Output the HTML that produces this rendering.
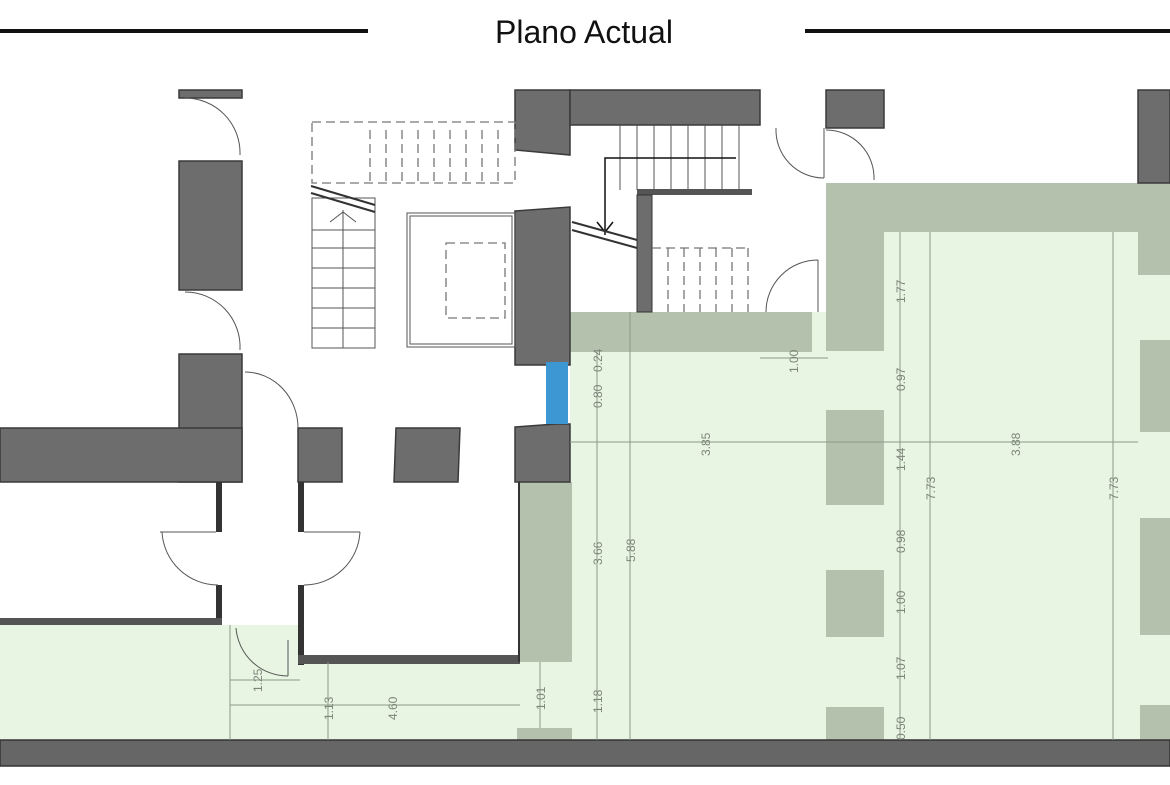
<!DOCTYPE html>
<html><head><meta charset="utf-8"><style>
html,body{margin:0;padding:0;background:#fff;}
svg{display:block;}
.d{fill:#6d6d6d;stroke:#3a3a3a;stroke-width:1.5}
.g{fill:#b4c2ad;}
.dim{stroke:#8a9a86;stroke-width:1;fill:none}
.t{font-family:"Liberation Sans",sans-serif;font-size:12px;fill:#7d847a}
.th{stroke:#555;stroke-width:1;fill:none}
.ds{stroke:#777;stroke-width:1.3;fill:none;stroke-dasharray:9 5}
</style></head><body>
<svg width="1170" height="785" viewBox="0 0 1170 785" xmlns="http://www.w3.org/2000/svg">
<rect width="1170" height="785" fill="#fff"/>
<!-- title -->
<line x1="0" y1="31" x2="368" y2="31" stroke="#111" stroke-width="4"/>
<line x1="805" y1="31" x2="1170" y2="31" stroke="#111" stroke-width="4"/>
<text x="584" y="43" text-anchor="middle" font-family="Liberation Sans, sans-serif" font-size="32" fill="#111">Plano Actual</text>

<!-- light green areas -->
<rect x="570" y="312" width="600" height="430" fill="#e8f5e2"/>
<rect x="884" y="232" width="286" height="80" fill="#e8f5e2"/>
<rect x="0" y="625" width="300" height="117" fill="#e8f5e2"/>
<rect x="300" y="662" width="272" height="80" fill="#e8f5e2"/>
<rect x="520" y="482" width="52" height="260" fill="#e8f5e2"/>

<!-- medium green walls -->
<rect class="g" x="826" y="183" width="312" height="49"/>
<rect class="g" x="1138" y="183" width="32" height="92"/>
<rect class="g" x="826" y="183" width="58" height="168"/>
<rect class="g" x="570" y="312" width="242" height="40"/>
<rect class="g" x="520" y="482" width="52" height="180"/>
<rect class="g" x="826" y="410" width="58" height="95"/>
<rect class="g" x="826" y="570" width="58" height="67"/>
<rect class="g" x="826" y="707" width="58" height="35"/>
<rect class="g" x="1140" y="340" width="30" height="92"/>
<rect class="g" x="1140" y="518" width="30" height="117"/>
<rect class="g" x="1140" y="705" width="30" height="37"/>
<rect class="g" x="517" y="728" width="55" height="14"/>

<!-- dark walls -->
<rect class="d" x="179" y="90" width="63" height="8"/>
<rect class="d" x="179" y="161" width="63" height="129"/>
<rect class="d" x="179" y="354" width="63" height="128"/>
<rect class="d" x="0" y="428" width="242" height="54"/>
<rect class="d" x="298" y="428" width="44" height="54"/>
<polygon class="d" points="396,428 460,428 458,482 394,482"/>
<polygon class="d" points="515,427 556,424 570,424 570,482 515,482"/>
<polygon class="d" points="515,90 570,90 570,155 515,150"/>
<rect class="d" x="570" y="90" width="190" height="35"/>
<rect class="d" x="826" y="90" width="58" height="38"/>
<rect class="d" x="1138" y="90" width="32" height="93"/>
<polygon class="d" points="515,211 570,207 570,365 515,365"/>
<rect x="546" y="362" width="22" height="62" fill="#3d97d3"/>
<!-- room walls -->
<rect x="216" y="482" width="6" height="50" fill="#333"/>
<rect x="216" y="585" width="6" height="40" fill="#333"/>
<rect x="298" y="482" width="6" height="50" fill="#333"/>
<rect x="298" y="585" width="6" height="80" fill="#333"/>
<rect x="0" y="618" width="222" height="7" fill="#555"/>
<rect x="298" y="655" width="222" height="9" fill="#555"/>
<rect x="518" y="482" width="2" height="180" fill="#333"/>
<!-- doors -->
<path class="th" d="M185 98 A55 55 0 0 1 240 155"/>
<path class="th" d="M185 292 A55 55 0 0 1 240 350"/>
<path class="th" d="M245 372 A53 56 0 0 1 298 428"/>
<path class="th" d="M162 532 A56 56 0 0 0 218 585 M160 532 L216 532"/>
<path class="th" d="M360 532 A56 56 0 0 1 304 585 M304 532 L360 532"/>
<path class="th" d="M236 628 A52 52 0 0 0 288 676 M288 640 L288 676"/>
<path class="th" d="M776 128 A48 48 0 0 0 824 178 M824 128 L824 178"/>
<path class="th" d="M826 130 A48 48 0 0 1 874 180"/>
<path class="th" d="M766 312 A52 52 0 0 1 818 260 M818 260 L818 312"/>
<!-- left stair dashed -->
<rect class="ds" x="312" y="122" width="203" height="61"/>
<g class="ds"><line x1="370" y1="130" x2="370" y2="183"/><line x1="386" y1="130" x2="386" y2="183"/><line x1="402" y1="130" x2="402" y2="183"/><line x1="418" y1="130" x2="418" y2="183"/><line x1="434" y1="130" x2="434" y2="183"/><line x1="450" y1="130" x2="450" y2="183"/><line x1="466" y1="130" x2="466" y2="183"/><line x1="482" y1="130" x2="482" y2="183"/><line x1="498" y1="130" x2="498" y2="183"/></g>
<g class="th"><rect x="312" y="198" width="63" height="150"/><line x1="343" y1="210" x2="343" y2="348"/>
<line x1="312" y1="230" x2="375" y2="230"/><line x1="312" y1="248" x2="375" y2="248"/><line x1="312" y1="268" x2="375" y2="268"/><line x1="312" y1="288" x2="375" y2="288"/><line x1="312" y1="308" x2="375" y2="308"/><line x1="312" y1="328" x2="375" y2="328"/>
<path d="M330 222 L343 212 L356 222"/></g>
<path d="M311 186 L375 205 M311 193 L375 212" stroke="#333" stroke-width="2"/>
<rect class="th" x="407" y="213" width="108" height="134"/><rect class="th" x="410" y="216" width="102" height="128"/>
<rect class="ds" x="446" y="243" width="59" height="75"/>
<!-- right stair -->
<g class="th"><line x1="620" y1="125" x2="620" y2="190"/><line x1="637" y1="125" x2="637" y2="190"/><line x1="654" y1="125" x2="654" y2="190"/><line x1="671" y1="125" x2="671" y2="190"/><line x1="688" y1="125" x2="688" y2="190"/><line x1="705" y1="125" x2="705" y2="190"/><line x1="722" y1="125" x2="722" y2="190"/><line x1="739" y1="125" x2="739" y2="190"/></g>
<path d="M736 158 L605 158 L605 235 M597 222 L605 232 L613 222" stroke="#111" stroke-width="1.5" fill="none"/>
<path d="M572 222 L637 240 M572 230 L637 248" stroke="#333" stroke-width="2"/>
<rect x="637" y="189" width="115" height="6" fill="#555"/>
<rect x="637" y="195" width="15" height="117" fill="#6d6d6d" stroke="#333"/>
<g class="ds"><line x1="652" y1="248" x2="750" y2="248"/><line x1="668" y1="248" x2="668" y2="312"/><line x1="684" y1="248" x2="684" y2="312"/><line x1="700" y1="248" x2="700" y2="312"/><line x1="716" y1="248" x2="716" y2="312"/><line x1="732" y1="248" x2="732" y2="312"/><line x1="748" y1="248" x2="748" y2="312"/></g>
<!-- bottom band -->
<rect x="0" y="740" width="1170" height="26" fill="#666" stroke="#333" stroke-width="1.5"/>
<!-- dim lines -->
<g class="dim">
<line x1="597" y1="352" x2="597" y2="740"/><line x1="630" y1="312" x2="630" y2="740"/>
<line x1="900" y1="232" x2="900" y2="740"/><line x1="930" y1="232" x2="930" y2="740"/>
<line x1="1113" y1="232" x2="1113" y2="740"/><line x1="570" y1="442" x2="1138" y2="442"/>
<line x1="760" y1="358" x2="828" y2="358"/><line x1="230" y1="705" x2="520" y2="705"/>
<line x1="230" y1="680" x2="300" y2="680"/><line x1="328" y1="662" x2="328" y2="740"/>
<line x1="540" y1="662" x2="540" y2="728"/><line x1="230" y1="625" x2="230" y2="740"/>
</g>
<g class="t">
<text transform="translate(602,408) rotate(-90)">0.80</text>
<text transform="translate(602,372) rotate(-90)">0.24</text>
<text transform="translate(798,373) rotate(-90)">1.00</text>
<text transform="translate(905,303) rotate(-90)">1.77</text>
<text transform="translate(905,391) rotate(-90)">0.97</text>
<text transform="translate(710,456) rotate(-90)">3.85</text>
<text transform="translate(905,471) rotate(-90)">1.44</text>
<text transform="translate(1020,456) rotate(-90)">3.88</text>
<text transform="translate(935,500) rotate(-90)">7.73</text>
<text transform="translate(1118,500) rotate(-90)">7.73</text>
<text transform="translate(602,565) rotate(-90)">3.66</text>
<text transform="translate(635,562) rotate(-90)">5.88</text>
<text transform="translate(905,553) rotate(-90)">0.98</text>
<text transform="translate(905,614) rotate(-90)">1.00</text>
<text transform="translate(905,680) rotate(-90)">1.07</text>
<text transform="translate(905,740) rotate(-90)">0.50</text>
<text transform="translate(262,692) rotate(-90)">1.25</text>
<text transform="translate(333,720) rotate(-90)">1.13</text>
<text transform="translate(397,720) rotate(-90)">4.60</text>
<text transform="translate(545,710) rotate(-90)">1.01</text>
<text transform="translate(602,713) rotate(-90)">1.18</text>
</g>
</svg>
</body></html>
